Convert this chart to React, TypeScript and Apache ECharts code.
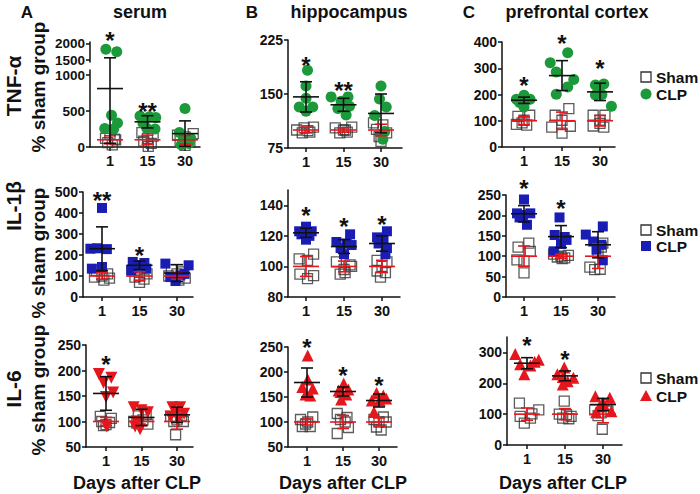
import React, { useEffect, useRef } from "react";
import * as echarts from "echarts";

const days = ["1", "15", "30"];

// points: [day index, horizontal jitter (day units), % of sham group]
// stats: [mean, SD] per day; stars: [day index, value, text]

// ---- TNF-α serum
const tnfSerumSham = [
  [0, 0.0, 180], [0, -0.12, 120], [0, 0.12, 110], [0, -0.06, 60], [0, 0.06, 30], [0, 0.15, 100],
  [1, -0.15, 200], [1, 0.15, 150], [1, 0.0, 120], [1, -0.1, 80], [1, 0.1, 50], [1, 0.02, 10],
  [2, -0.2, 163], [2, 0.22, 186], [2, 0.0, 140], [2, -0.13, 93], [2, 0.13, 70], [2, 0.0, 23],
];
const tnfSerumClp = [
  [0, -0.11, 1836], [0, 0.18, 1755], [0, 0.04, 442], [0, -0.14, 256], [0, 0.2, 335], [0, 0.1, 250],
  [1, -0.2, 430], [1, 0.05, 420], [1, 0.22, 410], [1, -0.12, 330], [1, 0.2, 250], [1, -0.02, 260],
  [2, 0.0, 535], [2, -0.15, 200], [2, 0.15, 120], [2, -0.05, 90], [2, 0.1, 50], [2, -0.1, 30],
];
const tnfSerumShamStats = [[100, 55], [100, 65], [100, 60]];
const tnfSerumClpStats = [[812, 760], [350, 85], [186, 177]];
const tnfSerumStars = [[0, 1556, "*"], [1, 556, "**"]];

// ---- TNF-α hippocampus
const tnfHippoSham = [
  [0, -0.25, 100], [0, -0.1, 96], [0, 0.05, 99], [0, 0.2, 104], [0, 0.1, 97], [0, -0.05, 103],
  [1, -0.22, 103], [1, 0.22, 104], [1, 0.0, 100], [1, -0.1, 96], [1, 0.1, 97], [1, 0.05, 100],
  [2, -0.2, 110], [2, 0.05, 107], [2, -0.12, 101], [2, 0.15, 96], [2, -0.05, 91], [2, 0.0, 84],
];
const tnfHippoClp = [
  [0, 0.04, 183], [0, 0.0, 161], [0, 0.0, 144], [0, -0.18, 132], [0, 0.18, 132], [0, 0.0, 126],
  [1, -0.33, 146], [1, 0.12, 146], [1, -0.06, 140], [1, -0.15, 130], [1, 0.16, 133], [1, 0.07, 121],
  [2, 0.0, 161], [2, -0.04, 143], [2, 0.14, 132], [2, -0.17, 120], [2, 0.1, 98], [2, 0.05, 87],
];
const tnfHippoShamStats = [[100, 4], [100, 3], [100, 8]];
const tnfHippoClpStats = [[146, 21], [135, 9], [123, 27]];
const tnfHippoStars = [[0, 197, "*"], [1, 162, "**"]];

// ---- TNF-α prefrontal cortex
const tnfPfcSham = [
  [0, -0.16, 117], [0, 0.15, 121], [0, 0.0, 102], [0, -0.2, 86], [0, 0.07, 83], [0, -0.05, 92],
  [1, -0.18, 121], [1, 0.18, 146], [1, 0.0, 102], [1, -0.27, 76], [1, 0.22, 79], [1, 0.0, 53],
  [2, -0.18, 121], [2, 0.13, 121], [2, 0.0, 102], [2, -0.18, 80], [2, 0.1, 76], [2, 0.0, 90],
];
const tnfPfcClp = [
  [0, 0.0, 197], [0, -0.2, 182], [0, 0.16, 182], [0, 0.0, 176], [0, -0.12, 170], [0, 0.0, 152],
  [1, -0.31, 321], [1, 0.15, 359], [1, -0.15, 286], [1, 0.31, 257], [1, 0.15, 229], [1, -0.15, 201],
  [2, -0.12, 236], [2, 0.1, 240], [2, 0.0, 231], [2, -0.12, 198], [2, 0.3, 155], [2, 0.05, 200],
];
const tnfPfcShamStats = [[100, 15], [100, 33], [100, 20]];
const tnfPfcClpStats = [[178, 12], [272, 57], [210, 33]];
const tnfPfcStars = [[0, 254, "*"], [1, 413, "*"], [2, 317, "*"]];

// ---- IL-1β serum
const il1SerumSham = [
  [0, -0.15, 127], [0, 0.15, 110], [0, 0.0, 100], [0, -0.2, 95], [0, 0.2, 90], [0, 0.05, 80],
  [1, -0.2, 125], [1, 0.2, 110], [1, 0.0, 100], [1, -0.12, 95], [1, 0.12, 85], [1, 0.0, 70],
  [2, -0.15, 130], [2, 0.15, 120], [2, 0.0, 110], [2, -0.22, 100], [2, 0.22, 90], [2, 0.05, 80],
];
const il1SerumClp = [
  [0, 0.0, 424], [0, -0.31, 230], [0, -0.13, 232], [0, 0.13, 228], [0, -0.27, 135], [0, 0.0, 143],
  [1, -0.18, 167], [1, 0.13, 162], [1, -0.04, 151], [1, -0.22, 127], [1, 0.18, 135], [1, 0.05, 150],
  [2, -0.31, 159], [2, 0.31, 151], [2, -0.18, 95], [2, -0.04, 76], [2, 0.09, 103], [2, 0.2, 110],
];
const il1SerumShamStats = [[100, 15], [100, 20], [100, 15]];
const il1SerumClpStats = [[230, 104], [151, 20], [114, 40]];
const il1SerumStars = [[0, 484, "**"], [1, 222, "*"]];

// ---- IL-1β hippocampus
const il1HippoSham = [
  [0, 0.2, 108], [0, -0.18, 105], [0, 0.04, 104], [0, -0.16, 95], [0, 0.2, 94], [0, 0.04, 92],
  [1, -0.2, 103], [1, 0.16, 101], [1, 0.0, 98], [1, 0.2, 100], [1, -0.1, 95], [1, 0.03, 96],
  [2, -0.13, 104], [2, 0.13, 103], [2, 0.0, 100], [2, -0.13, 97], [2, 0.09, 96], [2, -0.04, 93],
];
const il1HippoClp = [
  [0, 0.0, 126], [0, -0.18, 123], [0, 0.15, 123], [0, -0.12, 121], [0, 0.09, 120], [0, 0.0, 117.5],
  [1, 0.16, 121], [1, -0.2, 116], [1, 0.07, 115], [1, -0.09, 112], [1, 0.2, 114], [1, 0.0, 108],
  [2, 0.13, 123], [2, -0.13, 119], [2, 0.04, 117], [2, -0.09, 115], [2, 0.13, 112], [2, 0.09, 108],
];
const il1HippoShamStats = [[100, 6.5], [100, 3.5], [100, 4]];
const il1HippoClpStats = [[122, 3], [113, 4.5], [115, 5]];
const il1HippoStars = [[0, 136.7, "*"], [1, 129.7, "*"], [2, 130.6, "*"]];

// ---- IL-1β prefrontal cortex
const il1PfcSham = [
  [0, 0.13, 132], [0, -0.16, 122], [0, 0.17, 112], [0, -0.19, 91], [0, 0.0, 88], [0, 0.0, 59],
  [1, -0.2, 105], [1, 0.2, 102], [1, 0.0, 100], [1, -0.1, 98], [1, 0.1, 96], [1, 0.03, 94],
  [2, 0.13, 132], [2, 0.09, 122], [2, 0.0, 110], [2, -0.22, 73], [2, -0.09, 67], [2, 0.06, 68],
];
const il1PfcClp = [
  [0, 0.0, 239], [0, -0.19, 205], [0, 0.17, 205], [0, -0.03, 201], [0, -0.12, 195], [0, 0.08, 177],
  [1, -0.04, 195], [1, -0.17, 152], [1, 0.1, 147], [1, 0.15, 140], [1, -0.2, 112], [1, 0.0, 130],
  [2, 0.13, 173], [2, -0.33, 153], [2, -0.13, 136], [2, 0.09, 128], [2, -0.04, 116], [2, 0.13, 90],
];
const il1PfcShamStats = [[100, 25], [100, 5], [100, 30]];
const il1PfcClpStats = [[204, 20], [148, 27], [128, 32]];
const il1PfcStars = [[0, 277, "*"], [1, 229.6, "*"]];

// ---- IL-6 serum
const il6SerumSham = [
  [0, -0.16, 110], [0, 0.15, 106], [0, -0.12, 100], [0, 0.1, 98], [0, -0.07, 92], [0, 0.0, 94],
  [1, -0.09, 111], [1, 0.13, 113], [1, -0.22, 100], [1, 0.04, 103], [1, -0.13, 97], [1, 0.18, 95],
  [2, -0.18, 110], [2, 0.13, 112], [2, 0.0, 103], [2, -0.04, 74], [2, -0.09, 100], [2, 0.18, 100],
];
const il6SerumClp = [
  [0, -0.2, 193], [0, 0.15, 186], [0, -0.07, 176], [0, 0.2, 157], [0, 0.0, 148], [0, 0.02, 90],
  [1, -0.22, 128], [1, 0.0, 122], [1, 0.18, 118], [1, -0.13, 100], [1, -0.18, 90], [1, -0.04, 85],
  [2, -0.13, 128], [2, 0.09, 128], [2, 0.0, 118], [2, 0.2, 115], [2, -0.18, 110], [2, 0.04, 105],
];
const il6SerumShamStats = [[100, 8], [100, 8], [100, 15]];
const il6SerumClpStats = [[155, 33], [108, 16], [113, 15]];
const il6SerumStars = [[0, 220.7, "*"]];

// ---- IL-6 hippocampus
const il6HippoSham = [
  [0, 0.16, 110], [0, -0.18, 105], [0, 0.02, 100], [0, -0.13, 91], [0, 0.09, 91], [0, -0.04, 96],
  [1, -0.16, 117], [1, 0.11, 109], [1, -0.07, 105], [1, 0.06, 100], [1, 0.15, 89], [1, -0.16, 77],
  [2, 0.12, 110], [2, -0.14, 105], [2, 0.0, 100], [2, 0.2, 100], [2, -0.07, 90], [2, 0.06, 84],
];
const il6HippoClp = [
  [0, 0.02, 233], [0, 0.02, 185], [0, -0.13, 170], [0, 0.16, 167], [0, -0.04, 155], [0, 0.09, 153],
  [1, 0.02, 177], [1, -0.12, 163], [1, 0.15, 165], [1, -0.07, 160], [1, 0.09, 155], [1, -0.05, 145],
  [2, -0.07, 158], [2, 0.12, 153], [2, -0.2, 143], [2, 0.02, 143], [2, 0.2, 147], [2, -0.14, 120],
];
const il6HippoShamStats = [[100, 6], [100, 13], [100, 8]];
const il6HippoClpStats = [[179, 29], [161, 9], [143, 13]];
const il6HippoStars = [[0, 260, "*"], [1, 203, "*"], [2, 183, "*"]];

// ---- IL-6 prefrontal cortex
const il6PfcSham = [
  [0, -0.2, 136], [0, 0.31, 114], [0, 0.13, 101], [0, -0.18, 93], [0, 0.09, 87], [0, -0.07, 71],
  [1, -0.02, 142], [1, -0.15, 100], [1, 0.16, 93], [1, -0.06, 87], [1, 0.04, 98], [1, 0.1, 85],
  [2, -0.22, 114], [2, 0.09, 131], [2, -0.05, 104], [2, 0.13, 110], [2, -0.13, 95], [2, -0.02, 51],
];
const il6PfcClp = [
  [0, -0.31, 295], [0, 0.31, 276], [0, -0.18, 262], [0, 0.09, 258], [0, 0.2, 270], [0, -0.07, 229],
  [1, -0.02, 251], [1, -0.2, 229], [1, 0.22, 218], [1, -0.06, 220], [1, 0.07, 207], [1, -0.06, 196],
  [2, -0.2, 158], [2, 0.18, 153], [2, 0.0, 136], [2, -0.09, 125], [2, 0.22, 109], [2, -0.18, 106],
];
const il6PfcShamStats = [[100, 20], [100, 18], [100, 28]];
const il6PfcClpStats = [[265, 18], [224, 16], [131, 20]];
const il6PfcStars = [[0, 338, "*"], [1, 294.5, "*"]];

const columnTitles = ["serum", "hippocampus", "prefrontal cortex"];
const columnLetters = ["A", "B", "C"];
const rowNames = ["TNF-α", "IL-1β", "IL-6"];
const yTitle = "% sham group";
const xTitle = "Days after CLP";
const groupNames = ["Sham", "CLP"];

const GREEN = "#1c9a3b";
const BLUE = "#1a1db3";
const RED = "#e6161d";
const SHAM = "#333333";
const INK = "#111111";
const FONT = "'Liberation Sans', Arial, Helvetica, sans-serif";

type Pts = (number)[][];
interface Panel {
  left: number; right: number; top: number; bottom: number; c0: number; sp: number;
  yMin: number; yMax: number; yTicks: number[];
  sham: Pts; clp: Pts; shamStats: number[][]; clpStats: number[][]; stars: any[][];
  symbol: string; color: string; rotate?: number; labelSize?: number;
  upper?: { top: number; bottom: number; yMin: number; yMax: number; yTicks: number[] };
}

const panels: Panel[] = [
  { left: 90, right: 200, top: 70, bottom: 147, c0: 110, sp: 37.5, yMin: 0, yMax: 1070, yTicks: [0, 500, 1000],
    sham: tnfSerumSham, clp: tnfSerumClp, shamStats: tnfSerumShamStats, clpStats: tnfSerumClpStats, stars: tnfSerumStars,
    symbol: "circle", color: GREEN, labelSize: 13.5,
    upper: { top: 42, bottom: 62, yMin: 1444, yMax: 2055, yTicks: [1500, 2000] } },
  { left: 288, right: 402, top: 40, bottom: 148, c0: 306, sp: 37.5, yMin: 75, yMax: 225, yTicks: [75, 150, 225],
    sham: tnfHippoSham, clp: tnfHippoClp, shamStats: tnfHippoShamStats, clpStats: tnfHippoClpStats, stars: tnfHippoStars,
    symbol: "circle", color: GREEN },
  { left: 502, right: 615, top: 42, bottom: 147, c0: 524, sp: 38, yMin: 0, yMax: 400, yTicks: [0, 100, 200, 300, 400],
    sham: tnfPfcSham, clp: tnfPfcClp, shamStats: tnfPfcShamStats, clpStats: tnfPfcClpStats, stars: tnfPfcStars,
    symbol: "circle", color: GREEN },
  { left: 83, right: 193, top: 192, bottom: 297, c0: 102, sp: 37.5, yMin: 0, yMax: 500, yTicks: [0, 100, 200, 300, 400, 500],
    sham: il1SerumSham, clp: il1SerumClp, shamStats: il1SerumShamStats, clpStats: il1SerumClpStats, stars: il1SerumStars,
    symbol: "rect", color: BLUE },
  { left: 288, right: 400, top: 190, bottom: 297, c0: 306, sp: 38, yMin: 80, yMax: 150, yTicks: [80, 100, 120, 140],
    sham: il1HippoSham, clp: il1HippoClp, shamStats: il1HippoShamStats, clpStats: il1HippoClpStats, stars: il1HippoStars,
    symbol: "rect", color: BLUE },
  { left: 506, right: 615, top: 195, bottom: 297, c0: 524, sp: 37, yMin: 0, yMax: 250, yTicks: [0, 50, 100, 150, 200, 250],
    sham: il1PfcSham, clp: il1PfcClp, shamStats: il1PfcShamStats, clpStats: il1PfcClpStats, stars: il1PfcStars,
    symbol: "rect", color: BLUE },
  { left: 86, right: 193, top: 345, bottom: 447, c0: 106, sp: 35.5, yMin: 50, yMax: 250, yTicks: [50, 100, 150, 200, 250],
    sham: il6SerumSham, clp: il6SerumClp, shamStats: il6SerumShamStats, clpStats: il6SerumClpStats, stars: il6SerumStars,
    symbol: "triangle", color: RED, rotate: 180 },
  { left: 288, right: 397, top: 347, bottom: 447, c0: 307, sp: 36, yMin: 50, yMax: 250, yTicks: [50, 100, 150, 200, 250],
    sham: il6HippoSham, clp: il6HippoClp, shamStats: il6HippoShamStats, clpStats: il6HippoClpStats, stars: il6HippoStars,
    symbol: "triangle", color: RED },
  { left: 507, right: 622, top: 337, bottom: 445, c0: 527, sp: 38, yMin: 0, yMax: 350, yTicks: [0, 100, 200, 300],
    sham: il6PfcSham, clp: il6PfcClp, shamStats: il6PfcShamStats, clpStats: il6PfcClpStats, stars: il6PfcStars,
    symbol: "triangle", color: RED },
];

function errRender(halfMean: number, halfCap: number, color: string, extendBottom = 0) {
  return (params: any, api: any) => {
    const x = api.value(0), m = api.value(1), sd = api.value(2);
    const cs = params.coordSys;
    const top = cs.y, bot = cs.y + cs.height + extendBottom;
    const [cx, cy] = api.coord([x, m]);
    const yHi = api.coord([x, m + sd])[1];
    const yLo = api.coord([x, m - sd])[1];
    const style = { stroke: color, lineWidth: 1.6 };
    const inR = (y: number) => y >= top - 0.5 && y <= cs.y + cs.height + 0.5;
    const children: any[] = [];
    const a = Math.max(top, Math.min(bot, yHi));
    const b = Math.max(top, Math.min(bot, yLo));
    if (b - a > 0.5) children.push({ type: "line", shape: { x1: cx, y1: a, x2: cx, y2: b }, style });
    if (inR(cy)) children.push({ type: "line", shape: { x1: cx - halfMean, y1: cy, x2: cx + halfMean, y2: cy }, style });
    if (inR(yHi)) children.push({ type: "line", shape: { x1: cx - halfCap, y1: yHi, x2: cx + halfCap, y2: yHi }, style });
    if (inR(yLo)) children.push({ type: "line", shape: { x1: cx - halfCap, y1: yLo, x2: cx + halfCap, y2: yLo }, style });
    return { type: "group", children };
  };
}

function buildOption() {
  const grids: any[] = [], xAxes: any[] = [], yAxes: any[] = [], series: any[] = [];
  const axisLine = { show: true, onZero: false, lineStyle: { color: INK, width: 1.5 } };
  const labelStyle = { color: INK, fontSize: 14, fontWeight: "bold", fontFamily: FONT };

  panels.forEach((p) => {
    const xMin = -(p.c0 - p.left) / p.sp, xMax = (p.right - p.c0) / p.sp;
    const addGrid = (top: number, bottom: number, yMin: number, yMax: number, yTicks: number[], showX: boolean) => {
      const gi = grids.length;
      grids.push({ left: p.left, top, width: p.right - p.left, height: bottom - top, containLabel: false, outerBoundsMode: "none" });
      xAxes.push({
        type: "value", gridIndex: gi, min: xMin, max: xMax, show: showX,
        axisLine,
        axisTick: { show: true, customValues: [0, 1, 2], length: 4, lineStyle: { color: INK, width: 1.5 } },
        axisLabel: { ...labelStyle, fontSize: 14.5, customValues: [0, 1, 2], margin: 6, formatter: (v: number) => days[Math.round(v)] },
        splitLine: { show: false },
      });
      yAxes.push({
        type: "value", gridIndex: gi, min: yMin, max: yMax,
        axisLine,
        axisTick: { show: true, customValues: yTicks, length: 4, lineStyle: { color: INK, width: 1.5 } },
        axisLabel: { ...labelStyle, fontSize: p.labelSize || 14, customValues: yTicks, margin: 5, formatter: (v: number) => String(v) },
        splitLine: { show: false },
      });
      return gi;
    };
    const addSeries = (gi: number, yMin: number, yMax: number, extendBottom: number, withStars: boolean) => {
      const inRange = (pt: number[]) => pt[2] >= yMin && pt[2] <= yMax;
      series.push({
        type: "scatter", xAxisIndex: gi, yAxisIndex: gi, clip: false, name: groupNames[0],
        symbol: "rect", symbolSize: 10,
        itemStyle: { color: "rgba(255,255,255,0)", borderColor: SHAM, borderWidth: 1.3 },
        data: p.sham.filter(inRange).map((pt) => [pt[0] + pt[1], pt[2]]),
        z: 2,
      });
      series.push({
        type: "scatter", xAxisIndex: gi, yAxisIndex: gi, clip: false, name: groupNames[1],
        symbol: p.symbol, symbolSize: p.symbol === "triangle" ? 12 : p.symbol === "rect" ? 10 : 11,
        symbolRotate: p.rotate || 0,
        itemStyle: { color: p.color, opacity: 1 },
        data: p.clp.filter(inRange).map((pt) => [pt[0] + pt[1], pt[2]]),
        z: 3,
      });
      series.push({
        type: "custom", xAxisIndex: gi, yAxisIndex: gi, clip: false, z: 4,
        renderItem: errRender(13, 6, RED, extendBottom),
        data: p.shamStats.map((s, i) => [i, s[0], s[1]]),
      });
      series.push({
        type: "custom", xAxisIndex: gi, yAxisIndex: gi, clip: false, z: 5,
        renderItem: errRender(13, 6, INK, extendBottom),
        data: p.clpStats.map((s, i) => [i, s[0], s[1]]),
      });
      if (withStars) {
        series.push({
          type: "custom", xAxisIndex: gi, yAxisIndex: gi, clip: false, z: 6,
          renderItem: (params: any, api: any) => {
            const s = p.stars[params.dataIndex];
            const pt = api.coord([s[0], s[1]]);
            return {
              type: "text", x: pt[0], y: pt[1] + 5,
              style: { text: s[2], fill: INK, font: `bold 24px ${FONT}`, align: "center", verticalAlign: "middle" },
            };
          },
          data: p.stars.map((s) => [s[0], s[1]]),
        });
      }
    };
    const gi = addGrid(p.top, p.bottom, p.yMin, p.yMax, p.yTicks, true);
    addSeries(gi, p.yMin, p.yMax, 0, true);
    if (p.upper) {
      const u = p.upper;
      const gu = addGrid(u.top, u.bottom, u.yMin, u.yMax, u.yTicks, false);
      addSeries(gu, u.yMin, u.yMax, 8, false);
    }
  });

  const bold = (size: number) => `bold ${size}px ${FONT}`;
  const graphic: any[] = [];
  const txt = (text: string, x: number, y: number, size: number, rot = 0, align = "center") =>
    graphic.push({
      type: "text", x, y, rotation: rot,
      style: { text, font: bold(size), fill: INK, align, verticalAlign: "middle" },
    });

  // column letters and titles
  [27, 252, 469].forEach((x, i) => txt(columnLetters[i], x, 12, 17));
  [140, 349, 577].forEach((x, i) => txt(columnTitles[i], x, 12, 18));
  // row labels
  [[13, 86], [13, 206], [13, 389]].forEach(([x, y], i) => txt(rowNames[i], x, y, 21, Math.PI / 2));
  [[38, 87], [38, 253], [38, 390]].forEach(([x, y]) => txt(yTitle, x, y, 19, Math.PI / 2));
  // x titles
  [137, 343, 563].forEach((x) => txt(xTitle, x, 483, 18));

  // legends
  const legendRows = [
    { y1: 77, y2: 94, color: GREEN, shape: "circle" },
    { y1: 230, y2: 246, color: BLUE, shape: "rect" },
    { y1: 378, y2: 396, color: RED, shape: "triangle" },
  ];
  const lx = 646;
  legendRows.forEach((r) => {
    graphic.push({ type: "rect", shape: { x: lx - 5, y: r.y1 - 5, width: 10, height: 10 }, style: { fill: "none", stroke: SHAM, lineWidth: 1.3 } });
    txt(groupNames[0], 656, r.y1, 15.5, 0, "left");
    if (r.shape === "circle") {
      graphic.push({ type: "circle", shape: { cx: lx, cy: r.y2, r: 5.5 }, style: { fill: r.color } });
    } else if (r.shape === "rect") {
      graphic.push({ type: "rect", shape: { x: lx - 5, y: r.y2 - 5, width: 10, height: 10 }, style: { fill: r.color } });
    } else {
      graphic.push({ type: "polygon", shape: { points: [[lx, r.y2 - 6], [lx + 6, r.y2 + 5], [lx - 6, r.y2 + 5]] }, style: { fill: r.color } });
    }
    txt(groupNames[1], 656, r.y2, 15.5, 0, "left");
  });

  return {
    animation: false,
    backgroundColor: "#ffffff",
    textStyle: { fontFamily: FONT },
    grid: grids, xAxis: xAxes, yAxis: yAxes, series, graphic,
  };
}

export default function App() {
  const ref = useRef<HTMLDivElement>(null);
  useEffect(() => {
    if (!ref.current) return;
    const chart = echarts.init(ref.current, undefined, { renderer: "svg" });
    chart.setOption(buildOption() as any);
    return () => chart.dispose();
  }, []);
  return <div ref={ref} style={{ position: "absolute", left: 0, top: 0, width: 700, height: 494 }} />;
}
